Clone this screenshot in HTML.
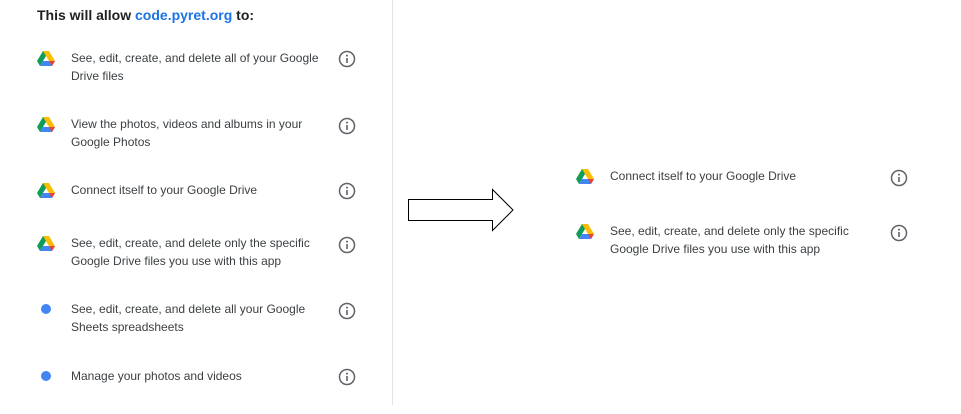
<!DOCTYPE html>
<html><head><meta charset="utf-8"><style>
html,body{margin:0;padding:0;background:#fff;}
body{width:961px;height:414px;position:relative;overflow:hidden;font-family:"Liberation Sans",sans-serif;}
.t{position:absolute;font-size:12px;color:#3c4043;line-height:18px;white-space:nowrap;}
.h{position:absolute;left:37px;top:7px;font-size:14px;font-weight:bold;color:#202124;}
.h span{color:#1a73e8;}
svg{position:absolute;}
.dot{position:absolute;width:10px;height:10px;border-radius:50%;background:#4285f4;}
</style></head><body>
<div style="position:absolute;left:392px;top:0;width:1px;height:405px;background:#e3e3e3"></div>
<div class="h">This will allow <span>code.pyret.org</span> to:</div>

<svg width="0" height="0"><defs>
<g id="d">
<polygon points="6,0 12,0 6,10 3,15 0,10" fill="#0f9d58"/>
<polygon points="6,0 12,0 18,10 12,10" fill="#fbbc04"/>
<polygon points="6,10 18,10 15,15 3,15" fill="#4285f4"/>
<polygon points="12,10 18,10 15,15" fill="#ea4335"/>
</g>
<g id="i"><circle cx="9" cy="9" r="7.5" fill="none" stroke="#5f6368" stroke-width="1.5"/><rect x="8.2" y="8" width="1.6" height="5" fill="#5f6368"/><circle cx="9" cy="5.6" r="1" fill="#5f6368"/></g>
</defs></svg>

<!-- left rows -->
<svg style="left:37px;top:51px" width="18" height="15"><use href="#d"/></svg>
<div class="t" style="left:71px;top:49px">See, edit, create, and delete all of your Google<br>Drive files</div>
<svg style="left:338px;top:50px" width="18" height="18"><use href="#i"/></svg>

<svg style="left:37px;top:117px" width="18" height="15"><use href="#d"/></svg>
<div class="t" style="left:71px;top:115px">View the photos, videos and albums in your<br>Google Photos</div>
<svg style="left:338px;top:117px" width="18" height="18"><use href="#i"/></svg>

<svg style="left:37px;top:183px" width="18" height="15"><use href="#d"/></svg>
<div class="t" style="left:71px;top:181px">Connect itself to your Google Drive</div>
<svg style="left:338px;top:182px" width="18" height="18"><use href="#i"/></svg>

<svg style="left:37px;top:236px" width="18" height="15"><use href="#d"/></svg>
<div class="t" style="left:71px;top:234px">See, edit, create, and delete only the specific<br>Google Drive files you use with this app</div>
<svg style="left:338px;top:236px" width="18" height="18"><use href="#i"/></svg>

<div class="dot" style="left:41px;top:304px"></div>
<div class="t" style="left:71px;top:300px">See, edit, create, and delete all your Google<br>Sheets spreadsheets</div>
<svg style="left:338px;top:302px" width="18" height="18"><use href="#i"/></svg>

<div class="dot" style="left:41px;top:371px"></div>
<div class="t" style="left:71px;top:367px">Manage your photos and videos</div>
<svg style="left:338px;top:368px" width="18" height="18"><use href="#i"/></svg>

<!-- arrow -->
<svg style="left:400px;top:180px" width="130" height="60">
<polygon points="8.5,19.5 92.5,19.5 92.5,9.5 113,30 92.5,50.5 92.5,40.5 8.5,40.5" fill="#fff" stroke="#000" stroke-width="1"/>
</svg>

<!-- right rows -->
<svg style="left:576px;top:169px" width="18" height="15"><use href="#d"/></svg>
<div class="t" style="left:610px;top:167px">Connect itself to your Google Drive</div>
<svg style="left:890px;top:169px" width="18" height="18"><use href="#i"/></svg>

<svg style="left:576px;top:224px" width="18" height="15"><use href="#d"/></svg>
<div class="t" style="left:610px;top:222px">See, edit, create, and delete only the specific<br>Google Drive files you use with this app</div>
<svg style="left:890px;top:224px" width="18" height="18"><use href="#i"/></svg>
</body></html>
